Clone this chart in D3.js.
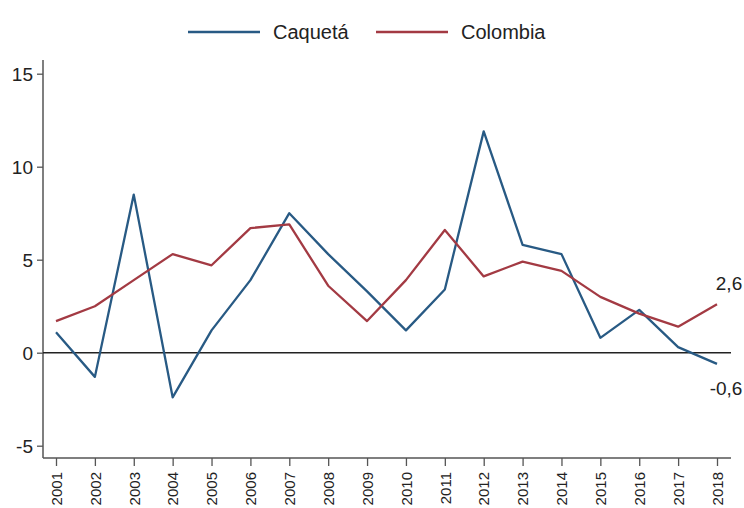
<!DOCTYPE html>
<html>
<head>
<meta charset="utf-8">
<script src="https://cdn.jsdelivr.net/npm/d3@7"></script>
<style>
  body { margin: 0; background: #fff; }
  text { font-family: "Liberation Sans", Arial, sans-serif; fill: #222; }
</style>
</head>
<body>
<div class="chart"></div>
<script>
var years = [2001, 2002, 2003, 2004, 2005, 2006, 2007, 2008, 2009, 2010, 2011, 2012, 2013, 2014, 2015, 2016, 2017, 2018];
var caqueta = [1.1, -1.3, 8.5, -2.4, 1.2, 3.9, 7.5, 5.3, 3.3, 1.2, 3.4, 11.9, 5.8, 5.3, 0.8, 2.3, 0.3, -0.6];
var colombia = [1.7, 2.5, 3.9, 5.3, 4.7, 6.7, 6.9, 3.6, 1.7, 3.9, 6.6, 4.1, 4.9, 4.4, 3.0, 2.1, 1.4, 2.6];
var yTicks = [-5, 0, 5, 10, 15];
var seriesNames = ["Caquetá", "Colombia"];
var colors = ["#285a84", "#a33a43"];

var width = 744,
    height = 508;

var svg = d3.select(".chart").append("svg")
    .attr("width", width)
    .attr("height", height);

    //scales
var x = d3.scalePoint()
    .domain(years)
    .range([56, 717]);

var y = d3.scaleLinear()
    .domain([-5, 15])
    .range([445.7, 73.7]);

var plotLeft = 43, plotRight = 731, plotBottom = 458, plotTop = 60;

    //y axis
var yAxis = d3.axisLeft(y).tickValues(yTicks).tickSize(6).tickPadding(4)
    .tickFormat(function (d) { return String(d); });
var gy = svg.append("g")
    .attr("transform", "translate(" + plotLeft + ",0)")
    .call(yAxis);
gy.select(".domain").remove();
gy.selectAll(".tick line").attr("stroke", "#555").attr("stroke-width", 1.3);
gy.selectAll(".tick text").style("font-size", "19px").attr("fill", "#222").attr("dy", "0.35em");
svg.append("line")
    .attr("x1", plotLeft).attr("x2", plotLeft)
    .attr("y1", plotTop).attr("y2", plotBottom)
    .attr("stroke", "#555").attr("stroke-width", 1.5);

    //x axis
var xAxis = d3.axisBottom(x).tickSize(8).tickPadding(4);
var gx = svg.append("g")
    .attr("transform", "translate(0," + plotBottom + ")")
    .call(xAxis);
gx.select(".domain").remove();
gx.selectAll(".tick line").attr("stroke", "#555").attr("stroke-width", 1.3);
gx.selectAll(".tick text")
    .style("font-size", "15px")
    .attr("fill", "#222")
    .attr("transform", "rotate(-90)")
    .attr("text-anchor", "end")
    .attr("x", -14)
    .attr("y", 0)
    .attr("dy", "0.35em");
svg.append("line")
    .attr("x1", plotLeft).attr("x2", plotRight)
    .attr("y1", plotBottom).attr("y2", plotBottom)
    .attr("stroke", "#555").attr("stroke-width", 1.5);

    //zero line
svg.append("line")
    .attr("x1", plotLeft).attr("x2", plotRight)
    .attr("y1", y(0)).attr("y2", y(0))
    .attr("stroke", "#222").attr("stroke-width", 1.5);

    //lines
var line = d3.line()
    .x(function (d, i) { return x(years[i]); })
    .y(function (d) { return y(d); });

[caqueta, colombia].forEach(function (s, k) {
    svg.append("path")
        .datum(s)
        .attr("d", line)
        .attr("fill", "none")
        .attr("stroke", colors[k])
        .attr("stroke-width", 2.3)
        .attr("stroke-linejoin", "round");
});

    //end labels
var last = years.length - 1;
svg.append("text")
    .attr("x", x(years[last]) + 12)
    .attr("y", y(colombia[last]) - 14)
    .attr("text-anchor", "middle")
    .style("font-size", "19px")
    .text(String(colombia[last]).replace(".", ","));
svg.append("text")
    .attr("x", x(years[last]) + 9)
    .attr("y", y(caqueta[last]) + 31)
    .attr("text-anchor", "middle")
    .style("font-size", "19px")
    .text(String(caqueta[last]).replace(".", ","));

    //legend
var legendX = [188, 376];
seriesNames.forEach(function (name, k) {
    svg.append("line")
        .attr("x1", legendX[k]).attr("x2", legendX[k] + 72)
        .attr("y1", 32).attr("y2", 32)
        .attr("stroke", colors[k]).attr("stroke-width", 2.5);
    svg.append("text")
        .attr("x", legendX[k] + 85)
        .attr("y", 32)
        .attr("dy", "0.35em")
        .style("font-size", "20px")
        .text(name);
});
</script>
</body>
</html>
